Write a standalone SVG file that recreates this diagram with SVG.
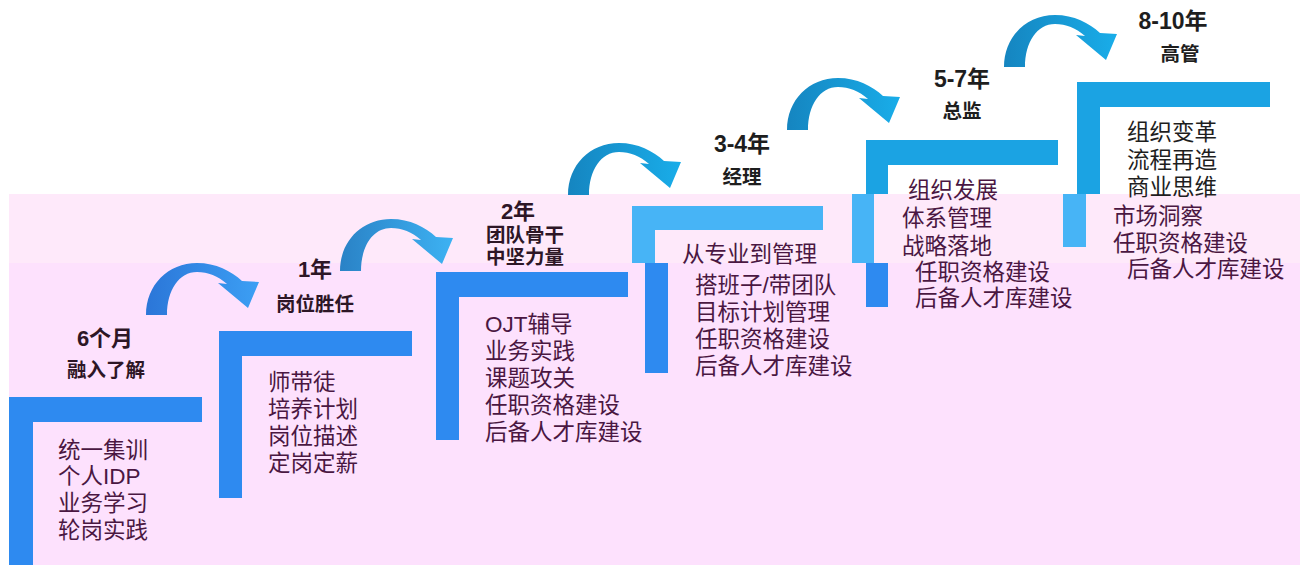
<svg xmlns="http://www.w3.org/2000/svg" width="1310" height="565" viewBox="0 0 1310 565">
  <style>
    .t { font-family: "Liberation Sans", "Noto Sans CJK SC", sans-serif; }
    .title { font-size: 22px; font-weight: bold; text-anchor: middle; }
    .titlew { font-size: 23px; font-weight: bold; text-anchor: middle; }
    .sub { font-size: 19.5px; font-weight: bold; text-anchor: middle; }
    .item { font-size: 22.5px; }
    .pk { fill: #4A1742; }
    .pkt { fill: #2D1626; }
    .wh { fill: #1E1E1E; }
    .bl { fill: #2E8AF0; }
    .bb { fill: #47B4F6; }
    .bw { fill: #1BA3E3; }
  </style>
  <defs>
    <linearGradient id="gBlue" x1="0" y1="0" x2="1" y2="0">
      <stop offset="0" stop-color="#2B76D8"/>
      <stop offset="1" stop-color="#3C9FF4"/>
    </linearGradient>
    <linearGradient id="gTeal" x1="0" y1="0" x2="1" y2="0">
      <stop offset="0" stop-color="#2A82C6"/>
      <stop offset="1" stop-color="#3DB2F3"/>
    </linearGradient>
    <linearGradient id="gCyan" x1="0" y1="0" x2="1" y2="0">
      <stop offset="0" stop-color="#1585C0"/>
      <stop offset="1" stop-color="#19ADE9"/>
    </linearGradient>
    <path id="arrow" d="M0,0 C0,-30 22,-52 51,-52 C70,-52 85,-44 96,-34 L113,-33 L102,-7 L72,-32 L81,-31 C72,-39 62,-43 51,-43 C33,-43 21,-25 21,0 Z"/>
  </defs>

  <rect x="0" y="0" width="1310" height="565" fill="#FFFFFF"/>
  <g id="background">
    <rect x="9" y="194" width="1291" height="69" fill="#FEE9FA"/>
    <rect x="9" y="263" width="1291" height="302" fill="#FDE1FD"/>
  </g>

  <g id="connectors">
    <use href="#arrow" transform="translate(146,315)" fill="url(#gBlue)"/>
    <use href="#arrow" transform="translate(340,271)" fill="url(#gTeal)"/>
    <use href="#arrow" transform="translate(568,195)" fill="url(#gCyan)"/>
    <use href="#arrow" transform="translate(787,130)" fill="url(#gCyan)"/>
    <use href="#arrow" transform="translate(1004,67)" fill="url(#gCyan)"/>
  </g>

  <g id="step1">
    <rect class="bl" x="9" y="397" width="193" height="25"/>
    <rect class="bl" x="9" y="422" width="24" height="143"/>
    <text class="t title pkt" x="105" y="346">6个月</text>
    <text class="t sub pkt" x="106" y="377">融入了解</text>
    <text class="t item pk" x="58" y="458">统一集训</text>
    <text class="t item pk" x="58" y="484">个人IDP</text>
    <text class="t item pk" x="58" y="511">业务学习</text>
    <text class="t item pk" x="58" y="538">轮岗实践</text>
  </g>

  <g id="step2">
    <rect class="bl" x="219" y="331" width="193" height="25"/>
    <rect class="bl" x="219" y="356" width="23" height="142"/>
    <text class="t title pkt" x="315" y="277">1年</text>
    <text class="t sub pkt" x="315" y="311">岗位胜任</text>
    <text class="t item pk" x="268" y="390">师带徒</text>
    <text class="t item pk" x="268" y="417">培养计划</text>
    <text class="t item pk" x="268" y="444">岗位描述</text>
    <text class="t item pk" x="268" y="471">定岗定薪</text>
  </g>

  <g id="step3">
    <rect class="bl" x="436" y="272" width="192" height="25"/>
    <rect class="bl" x="436" y="297" width="23" height="143"/>
    <text class="t title pkt" x="518" y="219">2年</text>
    <text class="t sub pkt" x="525" y="242">团队骨干</text>
    <text class="t sub pkt" x="525" y="264">中坚力量</text>
    <text class="t item pk" x="485" y="332">OJT辅导</text>
    <text class="t item pk" x="485" y="359">业务实践</text>
    <text class="t item pk" x="485" y="386">课题攻关</text>
    <text class="t item pk" x="485" y="413">任职资格建设</text>
    <text class="t item pk" x="485" y="440">后备人才库建设</text>
  </g>

  <g id="step4">
    <rect class="bb" x="632" y="206" width="191" height="24"/>
    <rect class="bb" x="632" y="230" width="23" height="33"/>
    <rect class="bl" x="645" y="263" width="23" height="110"/>
    <text class="t titlew wh" x="742" y="152">3-4年</text>
    <text class="t sub wh" x="742" y="184">经理</text>
    <text class="t item pk" x="682" y="262">从专业到管理</text>
    <text class="t item pk" x="695" y="293">搭班子/带团队</text>
    <text class="t item pk" x="695" y="320">目标计划管理</text>
    <text class="t item pk" x="695" y="347">任职资格建设</text>
    <text class="t item pk" x="695" y="374">后备人才库建设</text>
  </g>

  <g id="step5">
    <rect class="bw" x="866" y="140" width="192" height="25"/>
    <rect class="bw" x="866" y="165" width="22" height="29"/>
    <rect class="bb" x="852" y="194" width="22" height="69"/>
    <rect class="bl" x="866" y="263" width="22" height="44"/>
    <text class="t titlew wh" x="962" y="87">5-7年</text>
    <text class="t sub wh" x="962" y="118">总监</text>
    <text class="t item pk" x="908" y="198">组织发展</text>
    <text class="t item pk" x="902" y="226">体系管理</text>
    <text class="t item pk" x="902" y="254">战略落地</text>
    <text class="t item pk" x="915" y="280">任职资格建设</text>
    <text class="t item pk" x="915" y="306">后备人才库建设</text>
  </g>

  <g id="step6">
    <rect class="bw" x="1077" y="82" width="193" height="25"/>
    <rect class="bw" x="1077" y="107" width="23" height="87"/>
    <rect class="bb" x="1063" y="194" width="23" height="53"/>
    <text class="t titlew wh" x="1173" y="29">8-10年</text>
    <text class="t sub wh" x="1180" y="61">高管</text>
    <text class="t item wh" x="1127" y="140">组织变革</text>
    <text class="t item wh" x="1127" y="168">流程再造</text>
    <text class="t item wh" x="1127" y="195">商业思维</text>
    <text class="t item pk" x="1113" y="224">市场洞察</text>
    <text class="t item pk" x="1113" y="251">任职资格建设</text>
    <text class="t item pk" x="1127" y="277">后备人才库建设</text>
  </g>
</svg>
